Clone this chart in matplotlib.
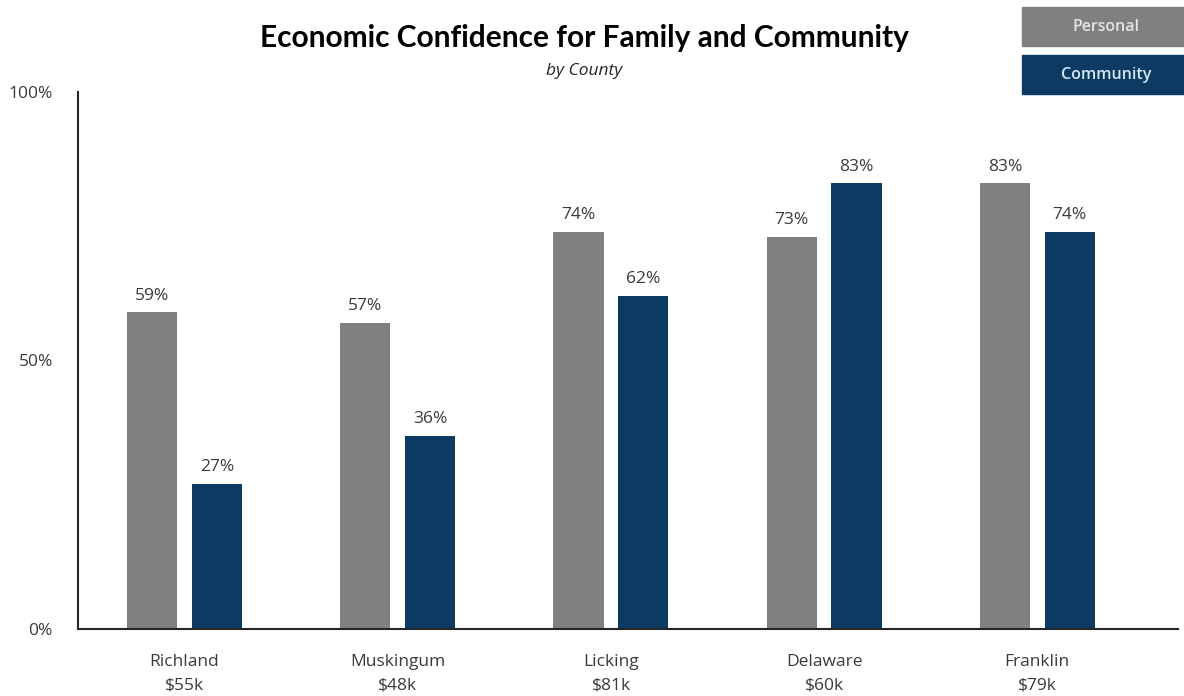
import matplotlib.pyplot as plt
from matplotlib.patches import Rectangle

counties = ["Richland", "Muskingum", "Licking", "Delaware", "Franklin"]
incomes = ["$55k", "$48k", "$81k", "$60k", "$79k"]
personal = [59, 57, 74, 73, 83]
community = [27, 36, 62, 83, 74]

GREY = "#808080"
NAVY = "#0b3a62"
TEXT = "#3a3a3a"

plt.rcParams["font.family"] = ["Open Sans", "DejaVu Sans"]

fig = plt.figure(figsize=(11.84, 6.96), dpi=100)
ax = fig.add_axes([78 / 1184, 1 - 629 / 696, 1100 / 1184, 537 / 696])

x = list(range(len(counties)))
w = 0.235
off = 0.152
ax.bar([i - off for i in x], personal, width=w, color=GREY)
ax.bar([i + off for i in x], community, width=w, color=NAVY)

for i in x:
    ax.text(i - off, personal[i] + 1.6, f"{personal[i]}%", ha="center", va="bottom",
            fontsize=12.5, color=TEXT)
    ax.text(i + off, community[i] + 1.6, f"{community[i]}%", ha="center", va="bottom",
            fontsize=12.5, color=TEXT)

ax.set_xlim(-0.5, 4.66)
ax.set_ylim(0, 100)
ax.set_yticks([0, 50, 100])
ax.set_yticklabels(["0%", "50%", "100%"])
ax.set_xticks(x)
ax.set_xticklabels([f"{c}\n{m}" for c, m in zip(counties, incomes)], linespacing=1.6)
ax.tick_params(length=0, labelsize=12.5, colors=TEXT)
ax.tick_params(axis="y", pad=18)
ax.tick_params(axis="x", pad=18)
for s in ["top", "right"]:
    ax.spines[s].set_visible(False)
for s in ["left", "bottom"]:
    ax.spines[s].set_color("#262626")
    ax.spines[s].set_linewidth(1.5)

fig.text(584 / 1184, 1 - 38 / 696, "Economic Confidence for Family and Community",
         ha="center", va="center", fontsize=21.5, fontweight="bold", color="black",
         family=["Lato", "DejaVu Sans"])
fig.text(584 / 1184, 1 - 71 / 696, "by County", ha="center", va="center",
         fontsize=12.5, style="italic", color="#262626")

# legend boxes in the top right corner
for y0, label, face, fc in [(7, "Personal", GREY, "#e4e4e4"), (55, "Community", NAVY, "#d8e6f3")]:
    fig.patches.append(Rectangle((1022 / 1184, 1 - (y0 + 39) / 696), 162 / 1184, 39 / 696,
                                 transform=fig.transFigure, color=face))
    fig.text(1106 / 1184, 1 - (y0 + 20) / 696, label, ha="center", va="center",
             fontsize=11.5, color=fc, fontweight="semibold")

fig.savefig("out.png", dpi=100)
